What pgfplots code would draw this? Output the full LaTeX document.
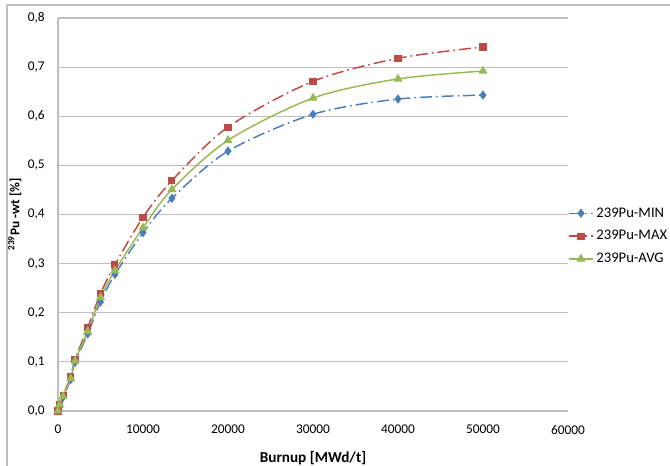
\documentclass[border=0pt]{standalone}
\usepackage{pgfplots}
\pgfplotsset{compat=1.18}
\usepackage{fontspec}
\setmainfont{Carlito}
\definecolor{pmin}{RGB}{74,126,187}
\definecolor{pmax}{RGB}{190,75,72}
\definecolor{pavg}{RGB}{152,185,84}
\definecolor{gridc}{RGB}{190,190,190}
\begin{document}
\begin{tikzpicture}
\useasboundingbox (-43.5pt,-41.25pt) rectangle (459pt,308.25pt);
\draw[gridc,line width=0.8pt] (-38.25pt,-41.25pt) -- (-38.25pt,304.5pt) -- (459pt,304.5pt);
\begin{axis}[
  scale only axis,
  width=382.5pt, height=294.75pt,
  xmin=0, xmax=60000, ymin=0, ymax=0.8,
  xtick={0,10000,...,60000},
  ytick={0,0.1,...,0.8},
  scaled x ticks=false,
  axis lines=left,
  axis line style={-,gridc,line width=0.9pt},
  major tick length=0pt,
  ymajorgrids, grid style={gridc,line width=0.9pt},
  tick label style={font=\fontsize{10}{12}\selectfont},
  /pgf/number format/assume math mode=true,
  x tick label style={/pgf/number format/1000 sep={}},
  y tick label style={/pgf/number format/fixed,/pgf/number format/fixed zerofill,
    /pgf/number format/precision=1,/pgf/number format/use comma},
  xticklabel style={yshift=-7pt},
  yticklabel style={xshift=-6.5pt},
  xlabel={\bfseries Burnup [MWd/t]},
  ylabel={\bfseries\textsuperscript{239}Pu -wt [\%]},
  xlabel style={font=\fontsize{11.4}{13}\selectfont,yshift=-6pt},
  ylabel style={font=\fontsize{10}{12}\selectfont,yshift=-2pt},
  legend style={at={(1.0,0.445)},anchor=west,draw=none,fill=none,inner sep=0pt,
    font=\fontsize{11}{13}\selectfont,row sep=4.5pt},
  legend cell align=left,
  legend image code/.code={
    \draw[mark repeat=2,mark phase=2,#1] plot coordinates {(0pt,0pt) (9pt,0pt) (18pt,0pt)};},
  clip=false,
]
\addplot[pmin,line width=1.1pt,dash pattern=on 9pt off 3pt on 1.2pt off 3pt,smooth,
  mark=diamond*,mark size=2.6pt,mark options={solid}] coordinates {
  (0,0.000) (200,0.012) (600,0.028) (1500,0.064) (2000,0.099) (3500,0.157)
  (5000,0.222) (6700,0.278) (10000,0.363) (13400,0.433) (20000,0.529)
  (30000,0.604) (40000,0.635) (50000,0.643)};
\addplot[pmax,line width=1.1pt,dash pattern=on 9pt off 3pt on 1.2pt off 3pt,smooth,
  mark=square*,mark size=2.1pt,mark options={solid}] coordinates {
  (0,0.000) (200,0.014) (600,0.032) (1500,0.070) (2000,0.105) (3500,0.170)
  (5000,0.239) (6700,0.298) (10000,0.394) (13400,0.469) (20000,0.578)
  (30000,0.671) (40000,0.718) (50000,0.741)};
\addplot[pavg,line width=1.1pt,smooth,
  mark=triangle*,mark size=2.9pt] coordinates {
  (0,0.000) (200,0.013) (600,0.030) (1500,0.066) (2000,0.102) (3500,0.162)
  (5000,0.231) (6700,0.286) (10000,0.373) (13400,0.451) (20000,0.551)
  (30000,0.637) (40000,0.676) (50000,0.692)};
\legend{239Pu-MIN,239Pu-MAX,239Pu-AVG}
\end{axis}
\end{tikzpicture}
\end{document}
